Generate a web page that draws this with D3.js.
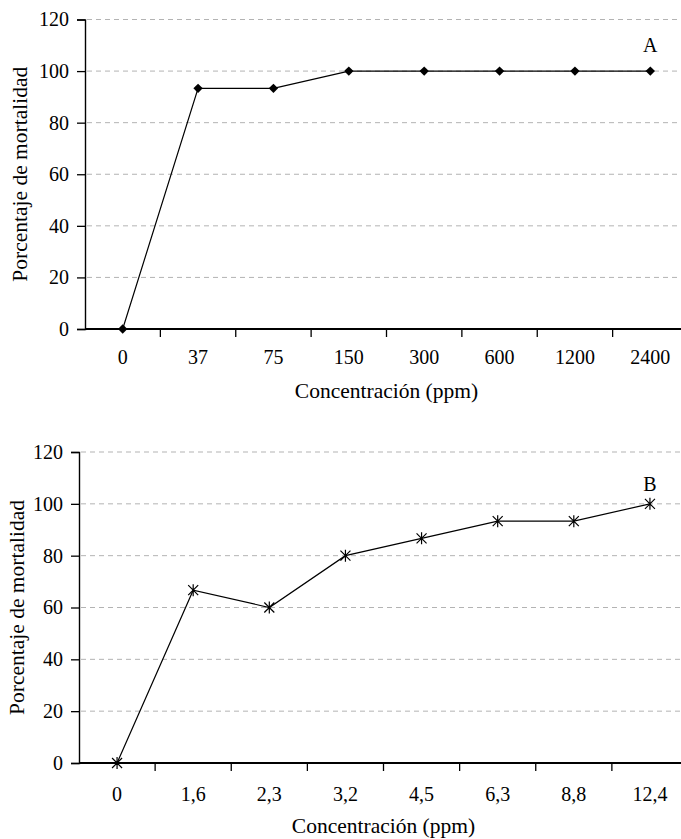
<!DOCTYPE html>
<html>
<head>
<meta charset="utf-8">
<script src="https://cdn.jsdelivr.net/npm/d3@7"></script>
<style>
    body { margin: 0; background: #fff; }
    svg { display: block; font-family: "Liberation Serif", "Times New Roman", serif; }
    svg text { font-family: "Liberation Serif", "Times New Roman", serif; }
</style>
</head>
<body>
<script>
// panel A
const concA = ['0', '37', '75', '150', '300', '600', '1200', '2400'];
const mortA = [0, 93.3, 93.3, 100, 100, 100, 100, 100];
// panel B
const concB = ['0', '1,6', '2,3', '3,2', '4,5', '6,3', '8,8', '12,4'];
const mortB = [0, 66.7, 60, 80, 86.7, 93.3, 93.3, 100];

const yTicks = [0, 20, 40, 60, 80, 100, 120];

const W = 681, H = 839;
const FS = 20;
const TFS = 21.5;
const svg = d3.select('body').append('svg')
    .attr('width', W)
    .attr('height', H);

//____________________________________________________________
//
function drawPanel(cfg) {
    const x = d3.scaleBand().domain(cfg.cats).range([cfg.left, cfg.right]);
    const y = d3.scaleLinear().domain([0, 120]).range([cfg.bottom, cfg.top]);
    const g = svg.append('g');

    // grid
    g.append('g')
        .selectAll('line')
        .data(yTicks.filter(d => d > 0))
        .join('line')
        .attr('x1', cfg.left + 2).attr('x2', W)
        .attr('y1', d => y(d)).attr('y2', d => y(d))
        .attr('stroke', '#b3b3b3')
        .attr('stroke-width', 1)
        .attr('stroke-dasharray', '5,4');

    // y axis
    const ay = g.append('g')
        .attr('transform', `translate(${cfg.left},0)`)
        .call(d3.axisLeft(y).tickValues(yTicks).tickSize(8).tickPadding(8));
    ay.select('.domain').attr('stroke-width', 1.4);

    // x axis
    const ax = g.append('g')
        .attr('transform', `translate(0,${cfg.bottom})`)
        .call(d3.axisBottom(x).tickSize(0).tickPadding(cfg.xPad));
    ax.select('.domain').attr('d', `M${cfg.left},0H${cfg.right}`).attr('stroke-width', 1.8);
    // tick marks between categories
    ax.append('g')
        .selectAll('line')
        .data(cfg.cats.slice(1))
        .join('line')
        .attr('x1', d => x(d)).attr('x2', d => x(d))
        .attr('y1', 0).attr('y2', 8)
        .attr('stroke', '#000').attr('stroke-width', 1.3);

    g.selectAll('.tick text')
        .attr('font-size', FS)
        .attr('font-family', '"Liberation Serif", serif')
        .attr('fill', '#000');
    g.selectAll('.tick line').attr('stroke-width', 1.3);

    // line
    const line = d3.line()
        .x((d, i) => x(cfg.cats[i]) + x.bandwidth() / 2)
        .y(d => y(d));
    g.append('path')
        .datum(cfg.vals)
        .attr('d', line)
        .attr('fill', 'none')
        .attr('stroke', '#000')
        .attr('stroke-width', 1.2);

    // markers
    const pts = g.append('g')
        .selectAll('g')
        .data(cfg.vals)
        .join('g')
        .attr('transform', (d, i) => `translate(${x(cfg.cats[i]) + x.bandwidth() / 2},${y(d)})`);
    if (cfg.marker === 'diamond') {
        pts.append('path')
            .attr('d', 'M0,-4.7L4.7,0L0,4.7L-4.7,0Z')
            .attr('fill', '#000');
    } else {
        pts.append('path')
            .attr('d', 'M-5,-5L5,5M-5,5L5,-5M0,-6V6')
            .attr('stroke', '#000')
            .attr('stroke-width', 1.2)
            .attr('fill', 'none');
    }

    // panel letter
    const last = cfg.cats[cfg.cats.length - 1];
    g.append('text')
        .attr('x', x(last) + x.bandwidth() / 2)
        .attr('y', y(cfg.vals[cfg.vals.length - 1]) - cfg.letterDy)
        .attr('text-anchor', 'middle')
        .attr('font-size', FS)
        .text(cfg.letter);

    // axis titles
    g.append('text')
        .attr('x', (cfg.left + cfg.right) / 2)
        .attr('y', cfg.bottom + cfg.xTitleDy)
        .attr('text-anchor', 'middle')
        .attr('font-size', TFS)
        .text('Concentración (ppm)');

    g.append('text')
        .attr('transform', `translate(${cfg.yTitleX},${(cfg.top + cfg.bottom) / 2}) rotate(-90)`)
        .attr('text-anchor', 'middle')
        .attr('font-size', TFS)
        .text('Porcentaje de mortalidad');
}

drawPanel({ cats: concA, vals: mortA, marker: 'diamond', letter: 'A', xPad: 21,
    left: 85, right: 688, top: 19.5, bottom: 329, letterDy: 19, xTitleDy: 69, yTitleX: 26.5 });
drawPanel({ cats: concB, vals: mortB, marker: 'star', letter: 'B', xPad: 23.5,
    left: 79, right: 688, top: 452, bottom: 763, letterDy: 13, xTitleDy: 70, yTitleX: 24 });
</script>
</body>
</html>
